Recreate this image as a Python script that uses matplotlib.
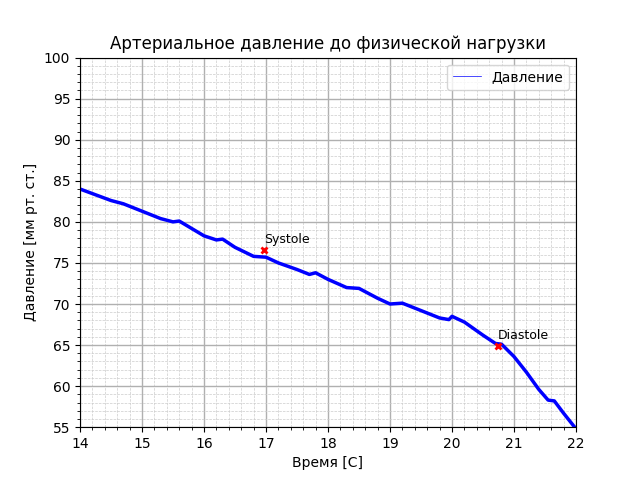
import matplotlib
matplotlib.use("Agg")
import matplotlib.pyplot as plt
from matplotlib.ticker import MultipleLocator

t = [14.0, 14.5, 14.7, 15.0, 15.3, 15.5, 15.6, 16.0, 16.2, 16.3, 16.5, 16.8, 17.0, 17.2, 17.5,
     17.7, 17.8, 18.0, 18.3, 18.5, 18.8, 19.0, 19.2, 19.5, 19.8, 19.95, 20.0, 20.2, 20.5,
     20.7, 20.8, 21.0, 21.2, 21.4, 21.55, 21.65, 21.8, 22.0]
p = [84.0, 82.6, 82.2, 81.3, 80.4, 80.0, 80.1, 78.3, 77.8, 77.9, 76.9, 75.8, 75.7, 75.0, 74.2,
     73.6, 73.8, 73.0, 72.0, 71.9, 70.7, 70.0, 70.1, 69.2, 68.3, 68.1, 68.5, 67.8, 66.2,
     65.2, 65.1, 63.6, 61.7, 59.6, 58.3, 58.2, 56.7, 54.8]
mark_t = [16.97, 20.74]
mark_p = [76.6, 64.9]
mark_lbl = ["Systole", "Diastole"]

fig, ax = plt.subplots(figsize=(6.4, 4.8), dpi=100)
ax.plot(t, p, color="blue", lw=2.5)
ax.plot([], [], color="blue", lw=0.5, label="Давление")
ax.plot(mark_t, mark_p, "x", color="red", ms=5, mew=2)
for x, y, s in zip(mark_t, mark_p, mark_lbl):
    ax.annotate(s, (x, y), xytext=(0, 5), textcoords="offset points", fontsize=9)
ax.set_xlim(14, 22)
ax.set_ylim(55, 100)
ax.xaxis.set_major_locator(MultipleLocator(1))
ax.yaxis.set_major_locator(MultipleLocator(5))
ax.xaxis.set_minor_locator(MultipleLocator(0.2))
ax.yaxis.set_minor_locator(MultipleLocator(1))
ax.grid(which="major", color="#b0b0b0", lw=1)
ax.grid(which="minor", color="#cccccc", ls="--", lw=0.5)
ax.set_title("Артериальное давление до физической нагрузки")
ax.set_xlabel("Время [C]")
ax.set_ylabel("Давление [мм рт. ст.]")
ax.legend(loc="upper right")
fig.savefig("out.png")
